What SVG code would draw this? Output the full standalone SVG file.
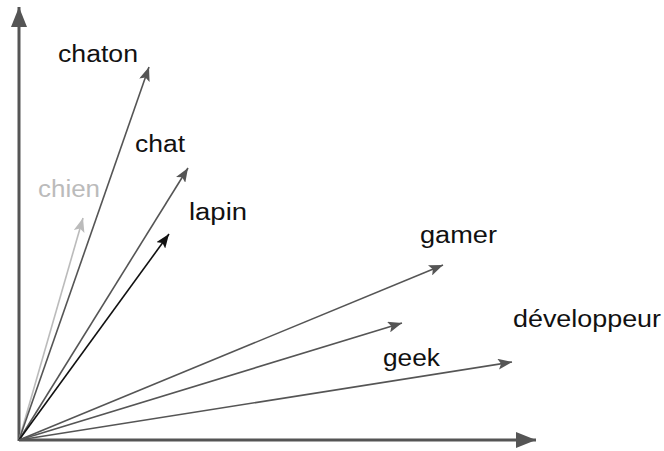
<svg xmlns="http://www.w3.org/2000/svg" width="664" height="451" viewBox="0 0 664 451">
<style>
.lbl{font-family:"Liberation Sans",Arial,sans-serif;font-size:23.5px;fill:#111}
.axis{stroke:#555;stroke-width:3;fill:none}
.vec{stroke:#555;stroke-width:1.6;fill:none}
</style>
<defs>
<marker id="ax" markerUnits="userSpaceOnUse" markerWidth="22" markerHeight="16" refX="20" refY="8" orient="auto">
<path d="M0,0 L20,8 L0,16 z" fill="#555"/>
</marker>
<marker id="ah" markerUnits="userSpaceOnUse" markerWidth="15" markerHeight="11" refX="14" refY="5.5" orient="auto">
<path d="M0,0 L14,5.5 L0,11 L3,5.5 z" fill="#555"/>
</marker>
<marker id="ahk" markerUnits="userSpaceOnUse" markerWidth="15" markerHeight="11" refX="14" refY="5.5" orient="auto">
<path d="M0,0 L14,5.5 L0,11 L3,5.5 z" fill="#111"/>
</marker>
<marker id="ahl" markerUnits="userSpaceOnUse" markerWidth="15" markerHeight="11" refX="14" refY="5.5" orient="auto">
<path d="M0,0 L14,5.5 L0,11 L3,5.5 z" fill="#bbb"/>
</marker>
</defs>
<rect width="664" height="451" fill="#fff"/>
<g id="connectors">
<line class="axis" x1="19" y1="441" x2="19" y2="7" marker-end="url(#ax)"/>
<line class="axis" x1="19" y1="440" x2="536" y2="440" marker-end="url(#ax)"/>
<line class="vec" x1="19" y1="440" x2="83" y2="218" style="stroke:#bbb" marker-end="url(#ahl)"/>
<line class="vec" x1="19" y1="440" x2="149" y2="67" marker-end="url(#ah)"/>
<line class="vec" x1="19" y1="440" x2="188" y2="168" marker-end="url(#ah)"/>
<line class="vec" x1="19" y1="440" x2="169" y2="234" style="stroke:#111" marker-end="url(#ahk)"/>
<line class="vec" x1="19" y1="440" x2="443" y2="265" marker-end="url(#ah)"/>
<line class="vec" x1="19" y1="440" x2="402" y2="323" marker-end="url(#ah)"/>
<line class="vec" x1="19" y1="440" x2="512" y2="362" marker-end="url(#ah)"/>
</g>
<g id="chaton"><text class="lbl" x="58" y="62" textLength="80" lengthAdjust="spacingAndGlyphs">chaton</text></g>
<g id="chat"><text class="lbl" x="135" y="152" textLength="50" lengthAdjust="spacingAndGlyphs">chat</text></g>
<g id="chien"><text class="lbl" x="38" y="197" textLength="62" lengthAdjust="spacingAndGlyphs" style="fill:#bbb">chien</text></g>
<g id="lapin"><text class="lbl" x="189" y="220" textLength="58" lengthAdjust="spacingAndGlyphs">lapin</text></g>
<g id="gamer"><text class="lbl" x="420" y="243" textLength="77" lengthAdjust="spacingAndGlyphs">gamer</text></g>
<g id="developpeur"><text class="lbl" x="513" y="327" textLength="148" lengthAdjust="spacingAndGlyphs">développeur</text></g>
<g id="geek"><text class="lbl" x="383" y="366" textLength="57" lengthAdjust="spacingAndGlyphs">geek</text></g>
</svg>
